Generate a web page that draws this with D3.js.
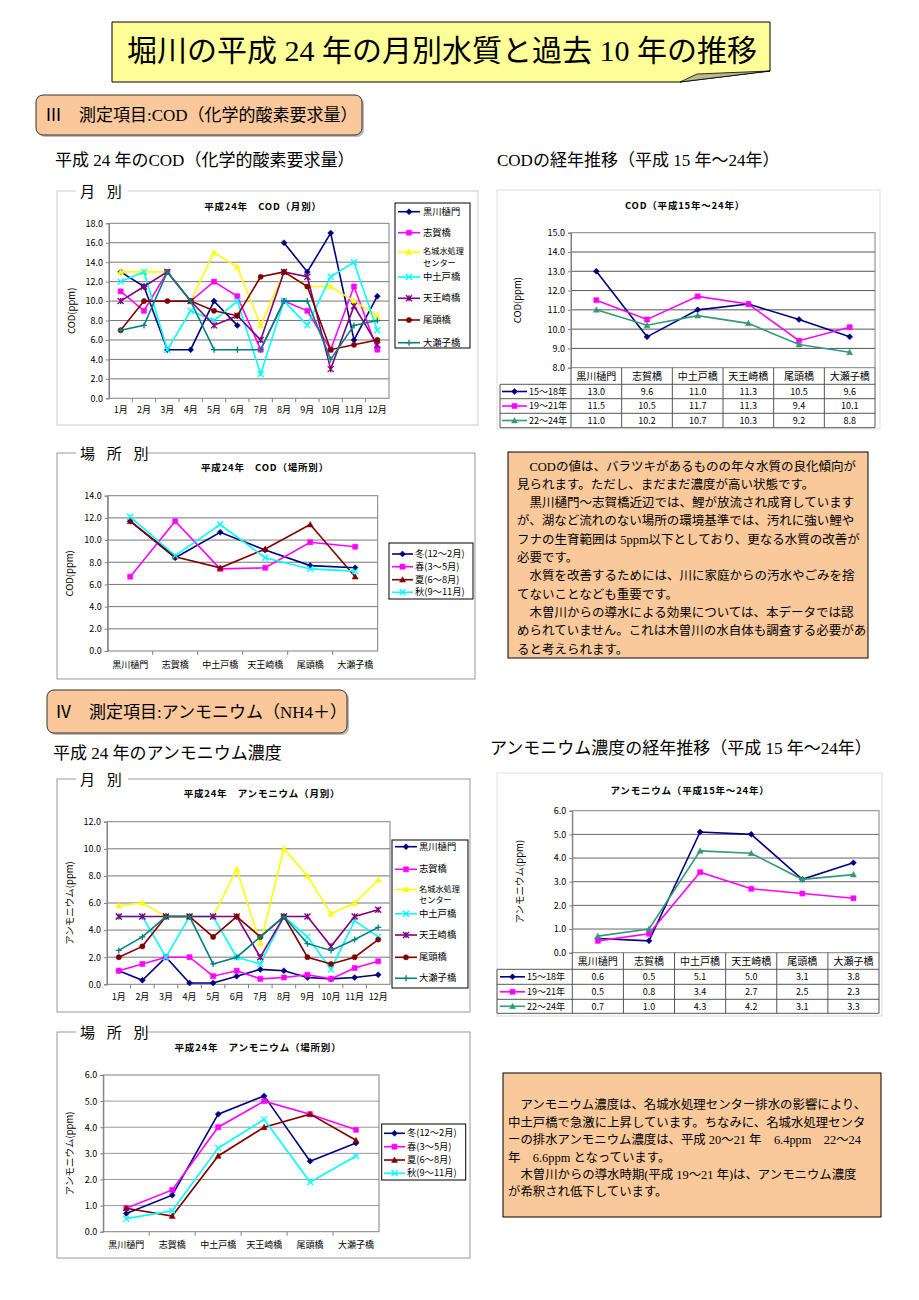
<!DOCTYPE html>
<html><head><meta charset="utf-8">
<script src="https://cdn.jsdelivr.net/npm/d3@7"></script>
<style>body{margin:0;background:#fff;}svg{display:block;}</style>
</head><body>
<svg id="page" width="919" height="1300"></svg>
<script>
// ---------- DATA ----------
const months = ["1月","2月","3月","4月","5月","6月","7月","8月","9月","10月","11月","12月"];
const sites = ["黒川樋門","志賀橋","中土戸橋","天王崎橋","尾頭橋","大瀬子橋"];
const monthlySiteLabels = ["黒川樋門","志賀橋","名城水処理\nセンター","中土戸橋","天王崎橋","尾頭橋","大瀬子橋"];
const seasons = ["冬(12～2月)","春(3～5月)","夏(6～8月)","秋(9～11月)"];
const periods = ["15～18年","19～21年","22～24年"];
const codTicks = [0,2,4,6,8,10,12,14,16,18];
const codSiteTicks = [0,2,4,6,8,10,12,14];
const codTrendTicks = [8,9,10,11,12,13,14,15];
const nhTicks = [0,2,4,6,8,10,12];
const nhSiteTicks = [0,1,2,3,4,5,6];
const nhTrendTicks = [0,1,2,3,4,5,6];

// COD monthly (H24)
const codM_kurokawa = [13.0,11.5,5.0,5.0,10.0,7.5,null,16.0,13.0,17.0,6.0,10.5];
const codM_shiga    = [11.0,9.0,13.0,10.0,12.0,10.5,5.0,10.0,9.0,5.0,11.5,5.0];
const codM_meijo    = [13.0,13.0,13.0,10.0,15.0,13.5,7.5,13.0,11.5,11.5,10.0,8.5];
const codM_nakadoto = [12.0,13.0,5.0,9.0,8.0,10.0,2.5,10.0,7.5,12.5,14.0,7.0];
const codM_tenno    = [10.0,11.5,13.0,10.0,7.5,8.5,6.0,13.0,12.5,3.0,9.5,5.5];
const codM_oto      = [7.0,10.0,10.0,10.0,9.0,8.5,12.5,13.0,11.5,5.0,5.5,6.0];
const codM_osego    = [7.0,7.5,13.0,10.0,5.0,5.0,5.0,10.0,10.0,4.0,7.5,8.0];
// COD by site (H24)
const codS_winter = [11.7,8.4,10.7,9.1,7.7,7.5];
const codS_spring = [6.7,11.7,7.4,7.5,9.8,9.4];
const codS_summer = [11.7,8.5,7.5,9.2,11.4,6.7];
const codS_autumn = [12.1,8.6,11.4,8.4,7.4,7.2];
// COD trend
const codT_1518 = [13.0,9.6,11.0,11.3,10.5,9.6];
const codT_1921 = [11.5,10.5,11.7,11.3,9.4,10.1];
const codT_2224 = [11.0,10.2,10.7,10.3,9.2,8.8];
// NH4 monthly (H24)
const nhM_kurokawa = [1.0,0.3,2.0,0.1,0.1,0.6,1.1,1.0,0.5,0.4,0.5,0.7];
const nhM_shiga    = [1.0,1.5,2.0,2.0,0.6,1.0,0.4,0.5,0.7,0.4,1.2,1.7];
const nhM_meijo    = [5.8,6.0,5.0,5.0,5.0,8.5,3.0,10.0,8.0,5.2,6.0,7.7];
const nhM_nakadoto = [5.0,5.0,2.0,5.0,5.0,2.0,1.5,5.0,3.5,1.1,4.7,3.5];
const nhM_tenno    = [5.0,5.0,5.0,5.0,5.0,5.0,2.0,5.0,5.0,2.8,5.0,5.5];
const nhM_oto      = [2.0,2.8,5.0,5.0,3.5,5.0,3.5,5.0,2.0,1.5,2.0,3.3];
const nhM_osego    = [2.5,3.5,5.0,5.0,1.5,2.0,3.5,5.0,3.0,2.5,3.3,4.2];
// NH4 by site (H24)
const nhS_winter = [0.7,1.4,4.5,5.2,2.7,3.4];
const nhS_spring = [0.9,1.6,4.0,5.0,4.5,3.9];
const nhS_summer = [0.9,0.6,2.9,4.0,4.5,3.5];
const nhS_autumn = [0.5,0.8,3.2,4.3,1.9,2.9];
// NH4 trend
const nhT_1518 = [0.6,0.5,5.1,5.0,3.1,3.8];
const nhT_1921 = [0.5,0.8,3.4,2.7,2.5,2.3];
const nhT_2224 = [0.7,1.0,4.3,4.2,3.1,3.3];

const codText = [
 "　CODの値は、バラツキがあるものの年々水質の良化傾向が",
 "見られます。ただし、まだまだ濃度が高い状態です。",
 "　黒川樋門～志賀橋近辺では、鯉が放流され成育しています",
 "が、湖など流れのない場所の環境基準では、汚れに強い鯉や",
 "フナの生育範囲は 5ppm以下としており、更なる水質の改善が",
 "必要です。",
 "　水質を改善するためには、川に家庭からの汚水やごみを捨",
 "てないことなども重要です。",
 "　木曽川からの導水による効果については、本データでは認",
 "められていません。これは木曽川の水自体も調査する必要があ",
 "ると考えられます。"];
const nhText = [
 "　アンモニウム濃度は、名城水処理センター排水の影響により、",
 "中土戸橋で急激に上昇しています。ちなみに、名城水処理センタ",
 "ーの排水アンモニウム濃度は、平成 20～21 年　6.4ppm　22～24",
 "年　6.6ppm となっています。",
 "　木曽川からの導水時期(平成 19～21 年)は、アンモニウム濃度",
 "が希釈され低下しています。"];

// ---------- DRAWING ----------
const svg = d3.select("#page");
const JP = "'Noto Sans CJK JP','Noto Sans',sans-serif";
const SERIF = "'Liberation Serif','Noto Sans CJK JP',serif";
svg.append("rect").attr("width",919).attr("height",1300).attr("fill","#fff");

const C = {navy:"#000080",mag:"#FF00FF",yel:"#FFFF00",cyan:"#00FFFF",pur:"#800080",dred:"#800000",teal:"#008080",green:"#339977"};
const monthlyStyles = [["diamond",C.navy],["square",C.mag],["triangle",C.yel],["x",C.cyan],["star",C.pur],["circle",C.dred],["plus",C.teal]];
const seasonStyles = [["diamond",C.navy],["square",C.mag],["triangle",C.dred],["x",C.cyan]];
const periodStyles = [["diamond",C.navy],["square",C.mag],["triangle",C.green]];

function markerPath(t, r){
  switch(t){
    case "diamond": return `M0,${-r}L${r},0L0,${r}L${-r},0Z`;
    case "square": {const s=r*0.85; return `M${-s},${-s}h${2*s}v${2*s}h${-2*s}Z`;}
    case "triangle": return `M0,${-r}L${r},${r*0.8}L${-r},${r*0.8}Z`;
    case "circle": return d3.symbol(d3.symbolCircle, Math.PI*r*r*0.75)();
    case "x": return `M${-r},${-r}L${r},${r}M${-r},${r}L${r},${-r}`;
    case "star": return `M${-r},${-r}L${r},${r}M${-r},${r}L${r},${-r}M0,${-r}V${r}`;
    case "plus": return `M${-r},0H${r}M0,${-r}V${r}`;
  }
}
const isFilled = t => ["diamond","square","triangle","circle"].includes(t);
function addMarker(parent, x, y, t, color, r=3){
  parent.append("path").attr("transform",`translate(${x},${y})`).attr("d",markerPath(t,r))
    .attr("fill",isFilled(t)?color:"none").attr("stroke",color).attr("stroke-width",isFilled(t)?0.5:1.3);
}

function frame(x0,y0,x1,y1,label,lx,lw,color){
  svg.append("rect").attr("x",x0).attr("y",y0).attr("width",x1-x0).attr("height",y1-y0)
    .attr("fill","none").attr("stroke",color||"#999").attr("stroke-width",1);
  if(label){
    svg.append("rect").attr("x",lx-4).attr("y",y0-8).attr("width",lw+8).attr("height",16).attr("fill","#fff");
    svg.append("text").attr("x",lx).attr("y",y0+5.5).attr("font-family",SERIF).attr("font-size",15)
      .attr("letter-spacing",4).text(label);
  }
}

function drawChart(c){
  const g = svg.append("g");
  const x = d3.scaleBand().domain(c.categories).range([c.left,c.right]);
  const y = d3.scaleLinear().domain(c.yDomain).range([c.bottom,c.top]);
  const cx = d => x(d)+x.bandwidth()/2;
  g.append("rect").attr("x",c.left).attr("y",c.top).attr("width",c.right-c.left).attr("height",c.bottom-c.top).attr("fill","#fff");
  g.append("g").selectAll("line").data(c.yTicks.slice(1,-1)).join("line")
    .attr("x1",c.left).attr("x2",c.right).attr("y1",d=>y(d)).attr("y2",d=>y(d))
    .attr("stroke",c.grid||"#777").attr("stroke-width",1);
  g.append("rect").attr("x",c.left).attr("y",c.top).attr("width",c.right-c.left).attr("height",c.bottom-c.top)
    .attr("fill","none").attr("stroke","#808080");
  const ya = g.append("g").attr("transform",`translate(${c.left},0)`)
    .call(d3.axisLeft(y).tickValues(c.yTicks).tickFormat(d3.format(".1f")).tickSize(3).tickPadding(3));
  ya.select(".domain").attr("stroke","#808080");
  ya.selectAll(".tick line").attr("stroke","#808080");
  ya.selectAll("text").attr("font-family",JP).attr("font-size",9).attr("fill","#000");
  if(!c.table){
    const xa = g.append("g").attr("transform",`translate(0,${c.bottom})`)
      .call(d3.axisBottom(x).tickSize(0).tickPadding(c.xLabelY-c.bottom-3.3));
    xa.select(".domain").remove();
    xa.selectAll("text").attr("font-family",JP).attr("font-size",9).attr("fill","#000");
    g.append("g").selectAll("line").data(c.categories.slice(1)).join("line")
      .attr("x1",d=>x(d)).attr("x2",d=>x(d)).attr("y1",c.bottom).attr("y2",c.bottom+4).attr("stroke","#808080");
  }
  g.append("text").attr("x",c.titleX).attr("y",c.titleY+3.5).attr("text-anchor","middle")
    .attr("font-family",JP).attr("font-weight","bold").attr("font-size",9.5).attr("letter-spacing",0.8).text(c.title);
  g.append("text").attr("transform",`translate(${c.yLabelX},${(c.top+c.bottom)/2}) rotate(-90)`)
    .attr("text-anchor","middle").attr("dy","0.35em").attr("font-family",JP).attr("font-size",9.5).text(c.yLabel);
  const line = d3.line().defined(d=>d.v!=null).x(d=>cx(d.c)).y(d=>y(d.v));
  c.series.forEach(s=>{
    const pts = c.categories.map((cat,i)=>({c:cat,v:s.values[i]}));
    g.append("path").attr("d",line(pts)).attr("fill","none").attr("stroke",s.color).attr("stroke-width",1.6);
    pts.filter(p=>p.v!=null).forEach(p=>addMarker(g,cx(p.c),y(p.v),s.marker,s.color,3));
  });
  if(c.legend){
    const L=c.legend;
    g.append("rect").attr("x",L.x0).attr("y",L.y0).attr("width",L.x1-L.x0).attr("height",L.y1-L.y0)
      .attr("fill","#fff").attr("stroke","#000");
    c.series.forEach((s,i)=>{
      const yy=L.ys[i];
      g.append("line").attr("x1",L.lx0).attr("x2",L.lx1).attr("y1",yy).attr("y2",yy).attr("stroke",s.color).attr("stroke-width",1.6);
      addMarker(g,(L.lx0+L.lx1)/2,yy,s.marker,s.color,3);
      const parts = s.label.split("\n");
      if(parts.length>1){
        parts.forEach((ln,j)=>g.append("text").attr("x",L.tx).attr("y",yy+2+j*11.8)
          .attr("font-family",JP).attr("font-size",8.2).text(ln));
      } else {
        g.append("text").attr("x",L.tx).attr("y",yy+3.1).attr("font-family",JP).attr("font-size",9.3).text(s.label);
      }
    });
  }
  if(c.table){
    const T=c.table, lc="#555";
    const bounds=c.categories.map(d=>x(d)).concat([c.right]);
    bounds.forEach(b=>g.append("line").attr("x1",b).attr("x2",b).attr("y1",c.bottom).attr("y2",T.lines[3]).attr("stroke",lc));
    g.append("line").attr("x1",T.left).attr("x2",T.left).attr("y1",T.lines[0]).attr("y2",T.lines[3]).attr("stroke",lc);
    T.lines.forEach(ly=>g.append("line").attr("x1",T.left).attr("x2",c.right).attr("y1",ly).attr("y2",ly).attr("stroke",lc));
    g.append("g").selectAll("text").data(c.categories).join("text").attr("x",cx).attr("y",T.labelY+3.5)
      .attr("text-anchor","middle").attr("font-family",JP).attr("font-size",10).text(d=>d);
    c.series.forEach((s,i)=>{
      const ry=(T.lines[i]+T.lines[i+1])/2;
      g.append("line").attr("x1",T.kx0).attr("x2",T.kx1).attr("y1",ry).attr("y2",ry).attr("stroke",s.color).attr("stroke-width",1.6);
      addMarker(g,(T.kx0+T.kx1)/2,ry,s.marker,s.color,3);
      g.append("text").attr("x",T.kt).attr("y",ry+3.2).attr("font-family",JP).attr("font-size",9).text(s.label);
      g.append("g").selectAll("text").data(c.categories).join("text").attr("x",cx).attr("y",ry+3.2)
        .attr("text-anchor","middle").attr("font-family",JP).attr("font-size",9).text((d,k)=>d3.format(".1f")(s.values[k]));
    });
  }
}
function mkSeries(valuesList, labels, styles){
  return valuesList.map((v,i)=>({values:v,label:labels[i],marker:styles[i][0],color:styles[i][1]}));
}

// ---------- Title & headers ----------
svg.append("path").attr("d","M112,22H770V71L680,82H112Z").attr("fill","#FFFF99").attr("stroke","#000").attr("stroke-width",1);
svg.append("path").attr("d","M680,82L697,74L770,71Z").attr("fill","#B9B98C").attr("stroke","#000").attr("stroke-width",0.8);
svg.append("text").attr("x",442).attr("y",61).attr("text-anchor","middle").attr("font-family",SERIF).attr("font-size",30)
  .text("堀川の平成 24 年の月別水質と過去 10 年の推移");

function secBox(x,y,w,h,label,tx,ty){
  svg.append("rect").attr("x",x+2).attr("y",y+2).attr("width",w).attr("height",h).attr("rx",7).attr("fill","#bbb");
  svg.append("rect").attr("x",x).attr("y",y).attr("width",w).attr("height",h).attr("rx",7)
    .attr("fill","#FAC89A").attr("stroke","#333").attr("stroke-width",1);
  svg.append("text").attr("x",tx).attr("y",ty).attr("font-family",SERIF).attr("font-size",17).text(label);
}
secBox(36,95,326,40,"Ⅲ　測定項目:COD（化学的酸素要求量）",45,121);
secBox(47,690,300,43,"Ⅳ　測定項目:アンモニウム（NH4＋）",55,718);

function sub(x,y,t){svg.append("text").attr("x",x).attr("y",y).attr("font-family",SERIF).attr("font-size",17).text(t);}
sub(55,166,"平成 24 年のCOD（化学的酸素要求量）");
sub(497,166,"CODの経年推移（平成 15 年～24年）");
sub(53,759,"平成 24 年のアンモニウム濃度");
sub(490,754,"アンモニウム濃度の経年推移（平成 15 年～24年）");

// ---------- frames ----------
frame(57,191,478,425,"月 別",80,44,"#ccc");
frame(57,453,475,679,"場 所 別",80,62,"#999");
frame(57,779,470,1012,"月 別",80,44,"#999");
frame(57,1032,470,1258,"場 所 別",80,62,"#999");
frame(497,190,880,429,null,0,0,"#ddd");
frame(497,773,882,1016,null,0,0,"#ddd");

// ---------- charts ----------
drawChart({categories:months,left:109,right:389,top:223.3,bottom:398.3,yDomain:[0,18],yTicks:codTicks,
  title:"平成24年　COD（月別）",titleX:263,titleY:206,yLabel:"COD(ppm)",yLabelX:72,xLabelY:410,
  series:mkSeries([codM_kurokawa,codM_shiga,codM_meijo,codM_nakadoto,codM_tenno,codM_oto,codM_osego],monthlySiteLabels,monthlyStyles),
  legend:{x0:395,y0:203,x1:470,y1:348,lx0:398,lx1:420,tx:423,ys:[211.7,232.7,252,277,298.3,320,342.7]}});

drawChart({categories:sites,left:571,right:875,top:232.7,bottom:367.7,yDomain:[8,15],yTicks:codTrendTicks,grid:"#555",
  title:"COD（平成15年～24年）",titleX:685,titleY:205,yLabel:"COD(ppm)",yLabelX:518,
  series:mkSeries([codT_1518,codT_1921,codT_2224],periods,periodStyles),
  table:{left:500,lines:[384.3,398.7,413.3,427.7],labelY:376.5,kx0:502,kx1:527,kt:529}});

drawChart({categories:sites,left:107.7,right:377.7,top:495.7,bottom:651,yDomain:[0,14],yTicks:codSiteTicks,
  title:"平成24年　COD（場所別）",titleX:265,titleY:467.7,yLabel:"COD(ppm)",yLabelX:70,xLabelY:665,
  series:mkSeries([codS_winter,codS_spring,codS_summer,codS_autumn],seasons,seasonStyles),
  legend:{x0:389,y0:543,x1:473,y1:599,lx0:392,lx1:413,tx:415,ys:[554,566.7,579.7,592.3]}});

drawChart({categories:months,left:107,right:390,top:821.7,bottom:984.3,yDomain:[0,12],yTicks:nhTicks,
  title:"平成24年　アンモニウム（月別）",titleX:262,titleY:793,yLabel:"アンモニウム(ppm)",yLabelX:70,xLabelY:996.7,
  series:mkSeries([nhM_kurokawa,nhM_shiga,nhM_meijo,nhM_nakadoto,nhM_tenno,nhM_oto,nhM_osego],monthlySiteLabels,monthlyStyles),
  legend:{x0:392,y0:840,x1:468,y1:988,lx0:395,lx1:417,tx:419,ys:[846.7,869.3,889.5,913.8,935,957.3,978.3]}});

drawChart({categories:sites,left:572.3,right:879,top:810.7,bottom:952.7,yDomain:[0,6],yTicks:nhTrendTicks,grid:"#666",
  title:"アンモニウム（平成15年～24年）",titleX:690,titleY:790,yLabel:"アンモニウム(ppm)",yLabelX:520,
  series:mkSeries([nhT_1518,nhT_1921,nhT_2224],periods,periodStyles),
  table:{left:497,lines:[969.3,984.3,999.3,1013.3],labelY:961.7,kx0:500,kx1:525,kt:527}});

drawChart({categories:sites,left:103.3,right:379,top:1075,bottom:1231.7,yDomain:[0,6],yTicks:nhSiteTicks,grid:"#999",
  title:"平成24年　アンモニウム（場所別）",titleX:258,titleY:1047.7,yLabel:"アンモニウム(ppm)",yLabelX:70,xLabelY:1245,
  series:mkSeries([nhS_winter,nhS_spring,nhS_summer,nhS_autumn],seasons,seasonStyles),
  legend:{x0:381.7,y0:1124,x1:465.7,y1:1180,lx0:384,lx1:405,tx:407,ys:[1133.3,1146.7,1160,1173.3]}});

// ---------- text boxes ----------
function textBox(x,y,w,h,lines,tx,y0,step,fs){
  svg.append("rect").attr("x",x).attr("y",y).attr("width",w).attr("height",h).attr("fill","#FAC99B").attr("stroke","#000").attr("stroke-width",1);
  svg.append("g").selectAll("text").data(lines).join("text").attr("x",tx).attr("y",(d,i)=>y0+i*step+fs*0.36)
    .attr("font-family",SERIF).attr("font-size",fs).text(d=>d);
}
textBox(508,452,360,206,codText,517,466,18.3,12.5);
textBox(503,1073,378,144,nhText,508,1105,17.4,12.4);
</script>
</body></html>
